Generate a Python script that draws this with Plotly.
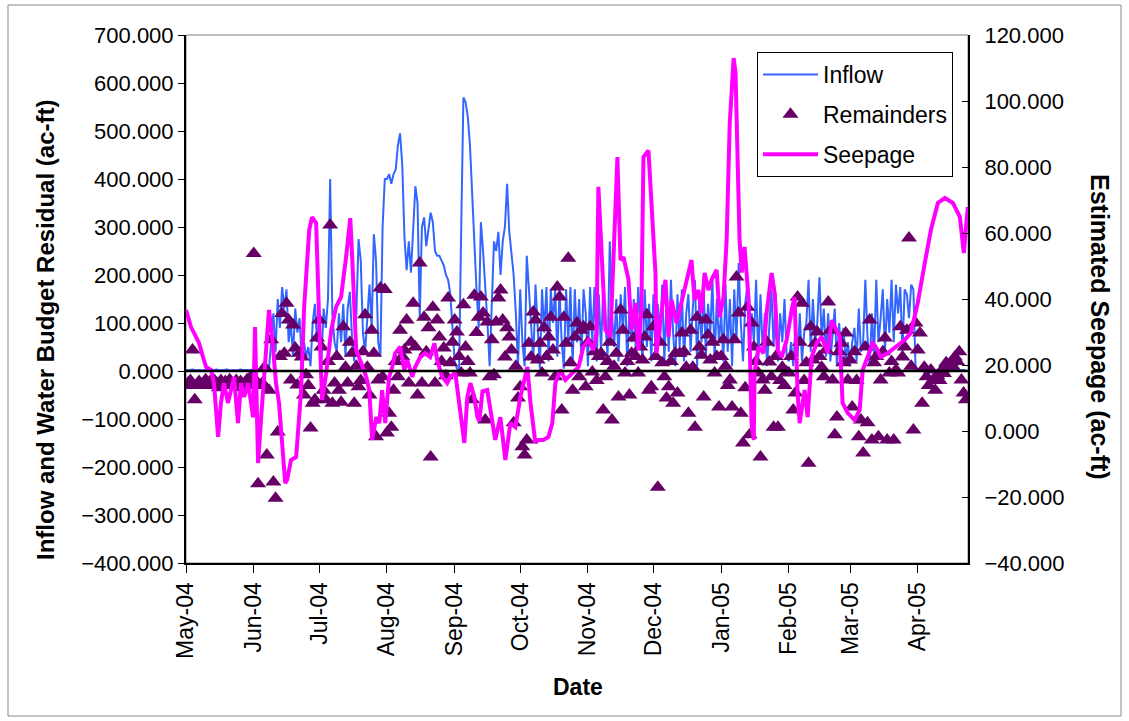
import pandas as pd
import plotly.graph_objects as go

# ---------------- data ----------------
month_starts = ["2004-05-01", "2004-06-01", "2004-07-01", "2004-08-01", "2004-09-01", "2004-10-01",
                "2004-11-01", "2004-12-01", "2005-01-01", "2005-02-01", "2005-03-01", "2005-04-01"]
month_labels = ["May-04", "Jun-04", "Jul-04", "Aug-04", "Sep-04", "Oct-04",
                "Nov-04", "Dec-04", "Jan-05", "Feb-05", "Mar-05", "Apr-05"]

# Daily inflow (ac-ft), one list per month
inflow_may = [2,1,2,3,2,1,2,2,1,3,2,2,1,2,3,2,1,2,2,3,1,2,2,1,2,3,2,2,1,2,2]
inflow_jun = [2,2,3,2,2,3,2,5,60,120,40,150,90,175,130,170,60,100,30,130,80,110,20,60,30,50,10,100,140,60]
inflow_jul = [110,20,130,90,150,400,120,60,40,120,60,140,30,130,165,70,20,120,275,230,80,40,110,180,90,285,230,60,30,300,400]
inflow_aug = [400,410,390,410,420,470,495,430,280,210,270,205,300,385,350,110,300,320,260,300,330,310,250,240,240,230,220,200,190,160,100]
inflow_sep = [20,5,0,300,570,560,530,470,360,280,170,90,310,250,180,100,10,150,270,250,290,200,270,300,390,290,250,200,120,10]
inflow_oct = [170,60,10,240,170,90,20,180,100,5,170,80,175,20,170,100,170,30,170,60,5,170,60,175,10,170,60,150,20,170,120]
inflow_nov = [10,175,60,175,20,160,40,175,100,30,270,120,50,150,20,160,80,175,10,130,60,150,30,175,90,20,170,50,140,20]
inflow_dec = [160,30,140,60,180,20,150,40,190,80,10,160,50,170,20,120,160,40,130,190,10,150,60,170,30,140,80,190,20,150,60]
inflow_jan = [120,20,180,40,150,10,170,60,225,100,20,140,180,30,120,60,190,20,160,40,120,10,100,170,50,160,20,120,60,150,30]
inflow_feb = [20,60,10,90,30,120,20,80,100,190,40,150,60,100,195,70,130,30,120,20,80,130,10,100,40,90,20,60]
inflow_mar = [10,60,90,20,130,40,60,190,70,10,120,30,190,60,110,170,40,150,80,190,60,180,120,175,40,170,160,110,180,170,5]
inflow_apr = [2,1,2,2,1,2,3,2,1,2,2,1,2,2,3,1,2,2,1,2,2,1,2]

# Daily water budget remainders (ac-ft)
rem_may = [-30,-25,-20,44,-60,-28,-22,-30,-25,-18,-30,-22,-28,-20,-25,-35,-20,-28,-22,-30,-18,-25,-30,-20,-28,-22,-35,-25,-18,-30,-10]
rem_jun = [245,-20,-235,-30,-25,8,-175,-40,65,-231,-265,-127,30,120,37,141,106,-19,96,48,-29,37,29,-50,-8,-30,-119,-67,-60,69]
rem_jul = [106,50,-40,-60,20,304,-67,-25,30,-40,-65,92,8,-25,60,37,-67,10,-33,-20,40,117,8,-50,85,37,-137,-19,173,-12,170]
rem_aug = [-129,-88,-117,-40,20,-12,85,30,44,106,-25,60,141,50,-50,225,-25,112,40,90,-179,133,-25,106,71,20,48,-10,152,17,60]
rem_sep = [106,81,30,-4,138,50,20,-4,-60,158,80,112,154,121,-102,102,-12,65,-8,102,152,169,106,29,90,71,44,-108,10,-56]
rem_oct = [-33,-158,-175,-144,58,29,123,106,23,58,-4,90,30,71,112,44,-12,175,154,-81,112,58,235,17,-40,71,100,-12,85,92,-33]
rem_nov = [60,92,-2,40,-20,30,37,-81,-12,20,60,-102,10,37,-54,127,85,-4,20,-50,37,69,30,-4,50,23,71,117,-40,-33]
rem_dec = [92,30,-242,60,17,-12,-56,-33,20,-67,37,-46,37,79,40,8,-88,85,8,-117,112,50,33,-54,106,75,23,60,-4,30,-75]
rem_jan = [30,65,10,-30,-19,-75,65,196,121,-88,-150,-35,133,-133,100,50,20,-4,-179,-19,-40,60,19,-12,-117,30,-117,-20,8,-30,-2]
rem_feb = [-4,30,-81,-46,154,60,141,-20,17,-192,92,23,58,81,30,8,-12,44,144,85,-19,-133,-96,40,58,17,79,-19]
rem_mar = [23,-75,40,-20,-137,-102,-171,50,-108,106,-144,17,30,-137,-19,40,69,-144,-4,20,-144,2,-4,92,29,50,85,277,10,-123,100]
rem_apr = [44,79,-67,8,-12,-30,2,-19,-40,-10,-20,2,-5,17,5,17,10,29,20,40,-19,-46,-60]

# Estimated seepage (ac-ft): days after 2004-05-01 and values
seep_day = [0.0,2.3,4.6,6.0,7.8,9.2,11.5,12.8,14.7,16.0,17.4,19.2,20.6,22.0,23.8,25.2,26.6,28.4,29.8,30.7,
            31.6,32.5,33.0,34.4,35.7,38.0,39.4,40.3,41.2,42.6,44.5,45.4,
            46.3,48.1,50.4,52.7,54.1,56.4,57.7,59.6,61.0,62.3,64.2,66.5,68.7,71.0,73.3,75.2,76.1,77.9,80.2,82.5,
            83.9,85.2,87.1,88.5,89.8,
            91.2,93.0,94.4,95.8,98.1,99.9,101.3,103.6,104.9,107.2,109.5,111.8,113.7,115.0,117.3,119.6,121.0,123.3,
            125.6,127.4,128.8,130.2,132.0,133.4,
            134.3,135.7,137.9,139.3,141.6,143.9,146.2,148.5,150.8,153.1,156.3,157.7,159.9,161.3,163.6,165.9,167.7,
            169.1,171.4,173.7,175.1,177.4,179.7,
            181.9,184.2,186.5,187.9,188.8,190.2,192.0,194.3,195.7,197.5,198.9,200.3,202.6,203.9,205.8,207.1,208.5,
            209.4,211.7,213.1,214.9,215.4,217.7,219.5,220.9,222.3,224.6,
            227.8,230.5,231.4,232.8,234.6,236.0,237.4,239.2,240.6,242.9,244.3,246.1,247.5,248.9,250.7,251.6,252.5,
            253.4,254.4,255.7,257.6,258.9,259.9,260.3,262.1,264.4,265.8,268.1,269.5,
            270.9,272.7,275.0,277.3,278.6,280.0,280.9,283.2,284.6,286.4,288.7,291.0,293.8,295.6,297.9,299.3,300.6,
            302.9,306.1,308.4,309.8,312.1,314.4,
            315.8,318.1,321.3,324.9,329.1,331.8,335.0,338.2,341.0,344.2,347.4,351.1,354.3,356.1,357.0,357.9]
seep_val = [36.7,31.5,28.5,26.6,22.4,19.4,18.5,14.5,-1.8,8.5,14.5,8.5,12.4,16.4,2.4,14.5,10.3,14.5,8.5,4.2,
            31.5,4.2,-9.7,4.2,16.4,36.7,28.5,20.6,14.5,8.5,-10.9,-15.8,
            -14.8,-8.8,-7.9,12.4,37.6,60.9,64.8,63.0,32.7,9.4,17.6,30.6,37.6,40.6,52.7,64.5,52.7,24.5,20.6,16.4,
            12.4,-2.7,4.2,2.4,12.4,
            2.4,16.4,19.4,23.6,25.5,18.5,21.5,16.4,19.4,22.4,23.6,22.4,26.6,21.5,16.4,14.5,16.4,17.6,
            6.4,-3.6,10.3,14.5,10.3,4.2,
            3.0,12.0,12.4,6.4,-2.7,4.2,-8.8,2.4,1.2,10.3,19.4,8.5,-3.6,-2.7,-2.7,-1.8,2.4,
            14.5,18.5,15.5,16.4,17.6,19.4,
            25.5,27.6,24.5,29.7,74.0,55.8,30.6,28.5,49.7,83.0,51.8,52.7,45.8,30.6,38.8,24.5,37.6,
            83.0,85.0,70.0,47.9,23.6,35.8,45.8,28.5,39.7,32.7,
            41.8,49.7,51.8,39.7,42.7,35.8,47.9,42.7,45.8,48.8,34.5,40.6,57.9,93.0,113.0,108.5,78.0,
            58.0,48.0,55.8,39.7,2.4,-2.7,17.6,25.5,23.6,35.8,47.9,41.8,
            24.5,22.4,27.6,36.7,40.6,11.5,2.4,12.4,4.2,22.4,26.6,28.5,23.6,33.6,30.6,28.5,8.5,
            5.5,3.3,6.4,18.5,22.4,26.6,
            25.5,22.4,23.6,25.5,27.6,29.7,38.8,50.9,60.9,69.1,70.6,69.1,64.8,53.9,61.8,67.9]

# ---------------- build ----------------
inflow_months = [inflow_may, inflow_jun, inflow_jul, inflow_aug, inflow_sep, inflow_oct,
                 inflow_nov, inflow_dec, inflow_jan, inflow_feb, inflow_mar, inflow_apr]
rem_months = [rem_may, rem_jun, rem_jul, rem_aug, rem_sep, rem_oct,
              rem_nov, rem_dec, rem_jan, rem_feb, rem_mar, rem_apr]


def daily(months):
    xs, ys = [], []
    for start, vals in zip(month_starts, months):
        xs.extend(pd.date_range(start, periods=len(vals), freq="D"))
        ys.extend(vals)
    return xs, ys


inflow_x, inflow_y = daily(inflow_months)
rem_x, rem_y = daily(rem_months)
base = pd.Timestamp("2004-05-01")
seep_x = [base + pd.Timedelta(hours=round(d * 24)) for d in seep_day]

FONT = "Liberation Sans, Arial, sans-serif"

fig = go.Figure()
fig.add_trace(go.Scatter(x=inflow_x, y=inflow_y, mode="lines", name="Inflow",
                         line=dict(color="#3366FF", width=2), legendgroup="a"))
fig.add_trace(go.Scatter(x=rem_x, y=rem_y, mode="markers", name="Remainders",
                         marker=dict(symbol="triangle-up", size=14, color="#660066"),
                         legendgroup="b"))
fig.add_trace(go.Scatter(x=seep_x, y=seep_val, mode="lines", name="Seepage", yaxis="y2",
                         line=dict(color="#FF00FF", width=4), legendgroup="c"))

L, R, T, B = 186, 161, 35, 158
W, H = 1129, 721
pw, ph = W - L - R, H - T - B


def px(xp):
    return (xp - L) / pw


def py(yp):
    return (H - B - yp) / ph


fig.update_layout(
    width=W, height=H,
    margin=dict(l=L, r=R, t=T, b=B, pad=0),
    paper_bgcolor="white", plot_bgcolor="white",
    font=dict(family=FONT, size=22, color="black"),
    showlegend=True,
    legend=dict(x=px(757), y=py(52), xanchor="left", yanchor="top",
                bgcolor="white", bordercolor="black", borderwidth=1,
                font=dict(size=23), tracegroupgap=7, itemwidth=55),
    xaxis=dict(type="date", range=["2004-05-01", "2005-04-24"],
               tickmode="array", tickvals=month_starts, ticktext=month_labels,
               tickangle=-90, ticks="outside", ticklen=8, tickwidth=1, tickcolor="black",
               showline=True, linecolor="black", linewidth=2, showgrid=False, zeroline=False,
               tickfont=dict(size=23)),
    yaxis=dict(range=[-400, 700], tick0=0, dtick=100, tickformat=".3f",
               ticks="outside", ticklen=6, tickcolor="black",
               showline=True, linecolor="black", linewidth=2, showgrid=False, zeroline=False,
               tickfont=dict(size=22)),
    yaxis2=dict(range=[-40, 120], tick0=0, dtick=20, tickformat=".3f",
                overlaying="y", side="right", ticks="inside", ticklen=6, tickcolor="black",
                showline=True, linecolor="black", linewidth=2, showgrid=False, zeroline=False,
                tickfont=dict(size=22), ticklabelstandoff=10),
    shapes=[
        dict(type="rect", xref="paper", yref="paper", x0=0, x1=1, y0=0, y1=1,
             line=dict(color="#808080", width=1), layer="below"),
        dict(type="rect", xref="paper", yref="paper", x0=px(8), x1=px(1121), y0=py(716), y1=py(5),
             line=dict(color="#888888", width=1), layer="below"),
        dict(type="line", xref="paper", yref="y", x0=0, x1=1, y0=0, y1=0,
             line=dict(color="black", width=2.5), layer="above"),
    ],
    annotations=[
        dict(text="<b>Inflow and Water Budget Residual (ac-ft)</b>", xref="paper", yref="paper",
             x=px(45), y=py(330), xanchor="center", yanchor="middle",
             textangle=-90, showarrow=False, font=dict(size=24)),
        dict(text="<b>Estimated Seepage (ac-ft)</b>", xref="paper", yref="paper",
             x=px(1100), y=py(327), xanchor="center", yanchor="middle",
             textangle=90, showarrow=False, font=dict(size=25)),
        dict(text="<b>Date</b>", xref="paper", yref="paper",
             x=px(578), y=py(687), xanchor="center", yanchor="middle",
             showarrow=False, font=dict(size=23)),
    ],
)

fig.write_html("out.html")
